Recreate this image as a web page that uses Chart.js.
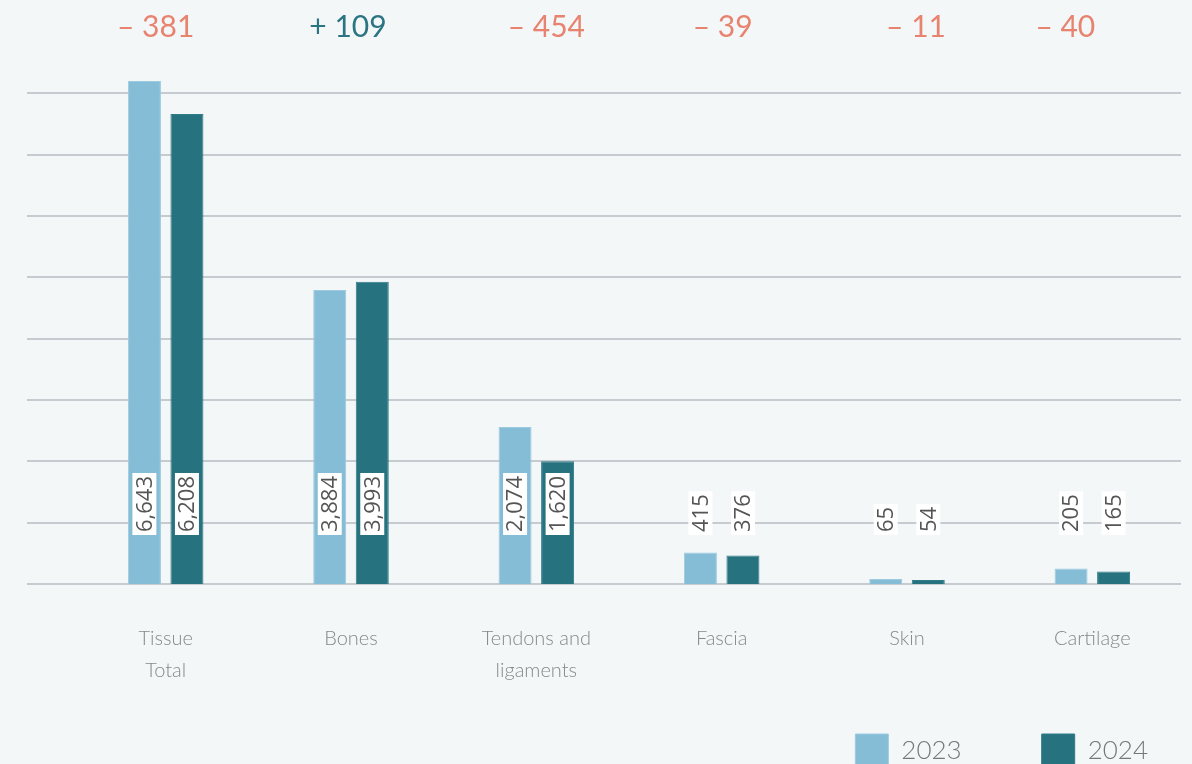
<!DOCTYPE html>
<html>
<head>
<meta charset="utf-8">
<script src="https://cdn.jsdelivr.net/npm/chart.js@4.4.1/dist/chart.umd.min.js"></script>
<style>
  html, body { margin: 0; padding: 0; background: #f3f7f8; overflow: hidden; }
  #wrap { position: relative; width: 1192px; height: 841px; }
</style>
</head>
<body>
<div id="wrap"><canvas id="canvas"></canvas></div>
<script>
// data
var categories = [['Tissue', 'Total'], 'Bones', ['Tendons and', 'ligaments'], 'Fascia', 'Skin', 'Cartilage'];
var values2023 = [6643, 3884, 2074, 415, 65, 205];
var values2024 = [6208, 3993, 1620, 376, 54, 165];
var diffLabels = ['\u2013 381', '+ 109', '\u2013 454', '\u2013 39', '\u2013 11', '\u2013 40'];

var colors = {
  light: '#85bdd7',
  dark: '#26727f',
  grid: '#c6cad1',
  minus: '#e8836f',
  plus: '#2b7481',
  label: '#555555',
  tick: '#888888'
};

var GRID_STEP = 810;
var GRID_TOP = 6480;
// the headline numbers are not exactly centred in the original
var diffNudge = [-10, -3, 10, 1, 9, -27];

// horizontal lines across the whole width
var gridLines = {
  id: 'gridLines',
  beforeDatasetsDraw: function(chart) {
    var ctx = chart.ctx, y = chart.scales.y;
    ctx.save();
    ctx.strokeStyle = colors.grid;
    ctx.lineWidth = 2;
    for (var v = 0; v <= GRID_TOP; v += GRID_STEP) {
      var py = Math.round(y.getPixelForValue(v));
      ctx.beginPath();
      ctx.moveTo(27, py);
      ctx.lineTo(chart.chartArea.right - 4, py);
      ctx.stroke();
    }
    ctx.restore();
  }
};

// rotated value labels with white boxes + difference labels on top
var valueLabels = {
  id: 'valueLabels',
  afterDatasetsDraw: function(chart) {
    var ctx = chart.ctx, y = chart.scales.y, x = chart.scales.x;
    var base = y.getPixelForValue(0);
    ctx.save();
    ctx.font = '22px "Open Sans"';
    chart.data.datasets.forEach(function(ds, di) {
      chart.getDatasetMeta(di).data.forEach(function(bar, i) {
        var txt = ds.data[i].toLocaleString('en-US');
        var w = ctx.measureText(txt).width;
        ctx.save();
        ctx.translate(bar.x, base - 49);
        ctx.rotate(-Math.PI / 2);
        ctx.fillStyle = '#ffffff';
        ctx.fillRect(0, -12, w + 6, 24);
        ctx.fillStyle = colors.label;
        ctx.textAlign = 'left';
        ctx.textBaseline = 'middle';
        ctx.fillText(txt, 3, 1);
        ctx.restore();
      });
    });
    ctx.font = '30px Lato';
    ctx.textAlign = 'center';
    ctx.textBaseline = 'middle';
    diffLabels.forEach(function(t, i) {
      ctx.fillStyle = t.charAt(0) === '+' ? colors.plus : colors.minus;
      ctx.fillText(t, x.getPixelForValue(i) + diffNudge[i], 27);
    });
    ctx.restore();
  }
};

// push the legend to the bottom right corner
var legendShift = {
  id: 'legendShift',
  afterLayout: function(chart) {
    var lg = chart.legend;
    lg.left += 43; lg.right += 43;
    lg.top -= 64; lg.bottom -= 64;
  }
};

var ctx = document.getElementById('canvas').getContext('2d');
window.myBar = new Chart(ctx, {
  type: 'bar',
  data: {
    labels: categories,
    datasets: [{
      label: '2023',
      data: values2023,
      backgroundColor: colors.light,
      borderColor: '#9ccbe0',
      borderWidth: 1
    }, {
      label: '2024',
      data: values2024,
      backgroundColor: colors.dark,
      borderColor: '#2f7b88',
      borderWidth: 1
    }]
  },
  options: {
    responsive: true,
    maintainAspectRatio: false,
    animation: false,
    categoryPercentage: 0.459,
    barPercentage: 0.776,
    layout: { padding: { left: 73, right: 7, top: 54, bottom: 0 } },
    scales: {
      x: {
        grid: { display: false },
        border: { display: false },
        ticks: {
          color: colors.tick,
          font: { family: 'Lato', weight: 300, size: 20, lineHeight: 1.6 },
          padding: 31,
          maxRotation: 0
        }
      },
      y: {
        display: false,
        min: 0,
        max: 7000
      }
    },
    plugins: {
      legend: {
        position: 'bottom',
        align: 'end',
        labels: {
          boxWidth: 33,
          boxHeight: 33,
          color: '#777777',
          font: { family: 'Lato', weight: 300, size: 26 },
          padding: 80
        }
      },
      tooltip: { enabled: false }
    }
  },
  plugins: [gridLines, valueLabels, legendShift]
});
</script>
</body>
</html>
